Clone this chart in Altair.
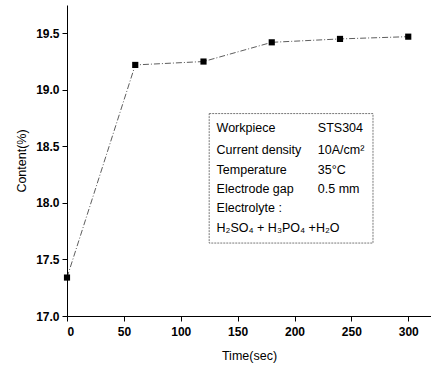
import altair as alt
import pandas as pd

# Measured content versus processing time
time_sec = [0, 60, 120, 180, 240, 300]
content_pct = [17.34, 19.22, 19.25, 19.42, 19.45, 19.47]

# Process conditions shown in the inset box
cond_names = ["Workpiece", "Current density", "Temperature", "Electrode gap",
              "Electrolyte :", "H\u2082SO\u2084 + H\u2083PO\u2084 +H\u2082O"]
cond_values = ["STS304", "10A/cm\u00b2", "35\u00b0C", "0.5 mm", "", ""]

FONT = "Liberation Sans"

df = pd.DataFrame({"t": time_sec, "c": content_pct})

xscale = alt.Scale(domain=[0, 320], nice=False, zero=False)
yscale = alt.Scale(domain=[17.0, 19.75], nice=False, zero=False)

xaxis = alt.Axis(
    title="Time(sec)", values=list(range(0, 325, 25)),
    labelExpr="datum.value % 50 === 0 ? datum.label : ''",
    tickSize={"condition": {"test": "datum.value % 50 === 0", "value": 5}, "value": 3},
    grid=False, domainColor="black", tickColor="black", labelColor="black",
    labelFont=FONT, labelFontWeight="bold", labelFontSize=12, labelPadding=5,
    titleFont=FONT, titleFontWeight="normal", titleFontSize=12.5, titleColor="black",
    titlePadding=12, format="d",
)
yaxis = alt.Axis(
    title="Content(%)", values=[17.0 + 0.25 * i for i in range(12)],
    labelExpr="(datum.value * 100) % 50 === 0 ? format(datum.value, '.1f') : ''",
    tickSize={"condition": {"test": "(datum.value * 100) % 50 === 0", "value": 5}, "value": 3},
    grid=False, domainColor="black", tickColor="black", labelColor="black",
    labelFont=FONT, labelFontWeight="bold", labelFontSize=12, labelPadding=3,
    titleFont=FONT, titleFontWeight="normal", titleFontSize=12.5, titleColor="black",
    titlePadding=7,
)

base = alt.Chart(df)

line = base.mark_line(color="#333", strokeWidth=0.8, strokeDash=[6, 2, 1, 2]).encode(
    x=alt.X("t:Q", scale=xscale, axis=xaxis),
    y=alt.Y("c:Q", scale=yscale, axis=yaxis),
)
pts = base.mark_point(shape="square", filled=True, color="black", size=38, opacity=1).encode(
    x=alt.X("t:Q", scale=xscale),
    y=alt.Y("c:Q", scale=yscale),
)

# Inset box with the process conditions (data coordinates)
box_df = pd.DataFrame({"x": [125.0], "x2": [269.0], "y": [18.79], "y2": [17.645]})
box = alt.Chart(box_df).mark_rect(
    fill="white", stroke="#555", strokeWidth=0.8, strokeDash=[2, 1]
).encode(
    x=alt.X("x:Q", scale=xscale), x2="x2:Q",
    y=alt.Y("y:Q", scale=yscale), y2="y2:Q",
)

row_px = [0, 22, 42, 61, 80, 100]
rows = pd.DataFrame({
    "name": cond_names,
    "val": cond_values,
    "y": [18.66 - p / 113.1 for p in row_px],
    "xl": [131.5] * len(cond_names),
    "xr": [220.5] * len(cond_names),
})
txt_l = alt.Chart(rows).mark_text(
    align="left", baseline="middle", font=FONT, fontSize=12.5, color="black"
).encode(
    x=alt.X("xl:Q", scale=xscale), y=alt.Y("y:Q", scale=yscale), text="name:N"
)
txt_r = alt.Chart(rows).mark_text(
    align="left", baseline="middle", font=FONT, fontSize=12.5, color="black"
).encode(
    x=alt.X("xr:Q", scale=xscale), y=alt.Y("y:Q", scale=yscale), text="val:N"
)

chart = alt.layer(line, pts, box, txt_l, txt_r).properties(
    width=364, height=311,
    autosize=alt.AutoSizeParams(type="none"),
    padding={"left": 67, "top": 5, "right": 0, "bottom": 51},
    background="white",
).configure_view(stroke=None)

chart.save("out.html", embed_options={"renderer": "svg", "actions": False})
